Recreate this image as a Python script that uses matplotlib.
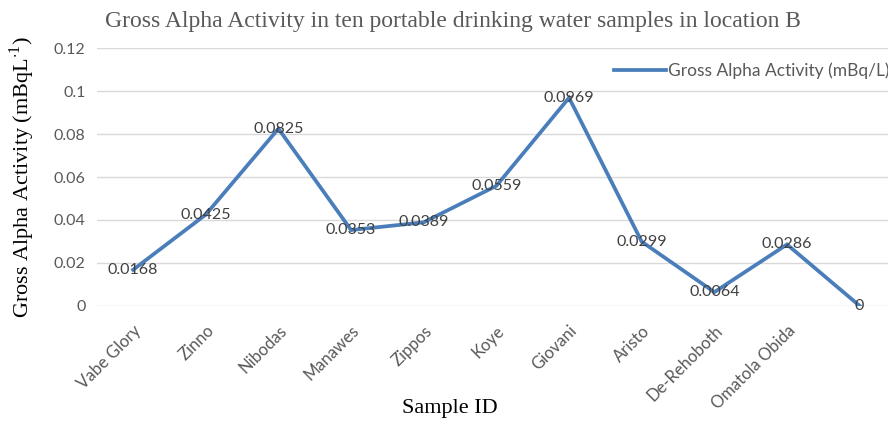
import matplotlib
matplotlib.use("Agg")
import matplotlib.pyplot as plt

# Data
samples = ["Vabe Glory", "Zinno", "Nibodas", "Manawes", "Zippos", "Koye",
           "Giovani", "Aristo", "De-Rehoboth", "Omatola Obida", ""]
activity = [0.0168, 0.0425, 0.0825, 0.0353, 0.0389, 0.0559,
            0.0969, 0.0299, 0.0064, 0.0286, 0]
value_labels = ["0.0168", "0.0425", "0.0825", "0.0353", "0.0389", "0.0559",
                "0.0969", "0.0299", "0.0064", "0.0286", "0"]
yticks = [0, 0.02, 0.04, 0.06, 0.08, 0.1, 0.12]
ytick_labels = ["0", "0.02", "0.04", "0.06", "0.08", "0.1", "0.12"]

line_color = "#4A7EBB"
text_gray = "#595959"
sans = "Lato"
serif = "Liberation Serif"

fig = plt.figure(figsize=(8.88, 4.26), dpi=100)
ax = fig.add_axes([0.109, 0.282, 0.9, 0.605])

x = list(range(len(samples)))
ax.plot(x, activity, color=line_color, linewidth=2.7,
        label="Gross Alpha Activity (mBq/L)", solid_joinstyle="miter")

for xi, yi, lab in zip(x, activity, value_labels):
    ax.text(xi, yi, lab, ha="center", va="center", fontsize=11.5,
            color="#404040", family=sans)

ax.set_xlim(-0.5, 10.5)
ax.set_ylim(0, 0.12)
ax.set_yticks(yticks)
ax.set_yticklabels(ytick_labels, fontsize=11.5, color=text_gray, family=sans)
ax.set_xticks(x)
ax.set_xticklabels(samples, rotation=45, ha="right", rotation_mode="anchor",
                   fontsize=12, color=text_gray, family=sans)
ax.tick_params(length=0, pad=8)
ax.tick_params(axis="x", pad=12)

ax.grid(axis="y", color="#D9D9D9", linewidth=1)
ax.set_axisbelow(True)
for s in ax.spines.values():
    s.set_visible(False)

fig.text(0.507, 0.042, "Sample ID", ha="center", va="center",
         family=serif, fontsize=16, color="black")
ax.set_ylabel("Gross Alpha Activity (mBqL$^{\\mathregular{\\cdot1}}$)", family=serif,
              fontsize=16, color="black", labelpad=12)

fig.text(0.51, 0.95, "Gross Alpha Activity in ten portable drinking water samples in location B",
         ha="center", va="center", family=serif, fontsize=17, color=text_gray)

leg = ax.legend(loc="upper right", bbox_to_anchor=(1.0, 0.97), frameon=False,
                prop={"family": sans, "size": 12.5}, handlelength=3.0,
                handletextpad=0.1, borderaxespad=0)
for t in leg.get_texts():
    t.set_color(text_gray)

fig.savefig("out.png", dpi=100)
